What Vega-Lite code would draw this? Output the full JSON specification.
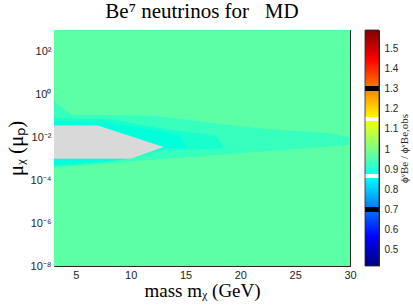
{
  "$schema": "https://vega.github.io/schema/vega-lite/v6.json",
  "background": "white",
  "padding": {"left": 5, "top": 1, "right": 2, "bottom": 2},
  "spacing": 15,
  "bounds": "flush",
  "config": {
    "view": {"stroke": null},
    "axis": {
      "grid": false,
      "labelFont": "Liberation Sans",
      "labelFontSize": 11,
      "labelColor": "#262626",
      "titleFont": "Liberation Serif",
      "titleFontSize": 19,
      "titleFontWeight": "normal",
      "titleColor": "#000000",
      "domainColor": "#262626",
      "domainWidth": 1,
      "tickColor": "#262626",
      "tickWidth": 0.8
    }
  },
  "hconcat": [
    {
      "width": 296,
      "height": 236,
      "title": {"text": "Be⁷ neutrinos for\u00a0\u00a0 MD", "font": "Liberation Serif", "fontSize": 21, "fontWeight": "normal", "color": "#000000", "anchor": "middle", "offset": 2},
      "layer": [
        {
          "data": {"values": [{"x": 3, "x2": 30, "y": 1000, "y2": 1e-8, "v": 0.995}]},
          "mark": {"type": "rect"},
          "encoding": {
            "x": {"field": "x", "type": "quantitative", "scale": {"domain": [3, 30], "nice": false, "zero": false},
              "axis": {"orient": "bottom", "title": "mass mᵪ (GeV)", "values": [5, 10, 15, 20, 25, 30], "tickSize": -4, "labelPadding": 7, "labelFlush": false, "titlePadding": 1}},
            "x2": {"field": "x2"},
            "y": {"field": "y", "type": "quantitative", "scale": {"type": "log", "domain": [1e-8, 1000], "nice": false},
              "axis": {"orient": "left", "title": "μᵪ (μₚ)", "titleFontSize": 21,
                "values": [1e-8,2e-8,3e-8,4e-8,5e-8,6e-8,7e-8,8e-8,9e-8,1e-7,2e-7,3e-7,4e-7,5e-7,6e-7,7e-7,8e-7,9e-7,1e-6,2e-6,3e-6,4e-6,5e-6,6e-6,7e-6,8e-6,9e-6,1e-5,2e-5,3e-5,4e-5,5e-5,6e-5,7e-5,8e-5,9e-5,1e-4,2e-4,3e-4,4e-4,5e-4,6e-4,7e-4,8e-4,9e-4,1e-3,2e-3,3e-3,4e-3,5e-3,6e-3,7e-3,8e-3,9e-3,1e-2,2e-2,3e-2,4e-2,5e-2,6e-2,7e-2,8e-2,9e-2,1e-1,2e-1,3e-1,4e-1,5e-1,6e-1,7e-1,8e-1,9e-1,1,2,3,4,5,6,7,8,9,10,20,30,40,50,60,70,80,90,100,200,300,400,500,600,700,800,900,1000],
                "labelExpr": "datum.value==1e-8?'10⁻⁸':datum.value==1e-6?'10⁻⁶':datum.value==1e-4?'10⁻⁴':datum.value==0.01?'10⁻²':datum.value==1?'10⁰':datum.value==100?'10²':''",
                "labelOverlap": false,
                "tickSize": {"condition": {"test": "abs(log(datum.value)/LN10-round(log(datum.value)/LN10))<0.001", "value": -4}, "value": -2},
                "labelPadding": 7,
                "titlePadding": 4}},
            "y2": {"field": "y2"},
            "color": {"field": "v", "type": "quantitative", "legend": null,
              "scale": {"domain": [0.42, 0.56625, 0.85875, 1.15125, 1.44375, 1.59], "range": ["#00007F", "#0000FF", "#00FFFF", "#FFFF00", "#FF0000", "#800000"]}}
          }
        },
        {
          "data": {"values": [
            {"x": 3, "y": 0.501, "y2": 0.000398, "v": 0.965},
            {"x": 4.6, "y": 0.1122, "y2": 0.000459, "v": 0.965},
            {"x": 12, "y": 0.1, "y2": 0.000891, "v": 0.965},
            {"x": 22, "y": 0.02512, "y2": 0.00218, "v": 0.965},
            {"x": 28, "y": 0.01585, "y2": 0.00373, "v": 0.965},
            {"x": 30, "y": 0.01, "y2": 0.00447, "v": 0.965}
          ]},
          "mark": {"type": "area"},
          "encoding": {
            "x": {"field": "x", "type": "quantitative", "axis": null},
            "y": {"field": "y", "type": "quantitative", "axis": null, "stack": null},
            "y2": {"field": "y2"},
            "color": {"field": "v", "type": "quantitative", "legend": null}
          }
        },
        {
          "data": {"values": [
            {"x": 3, "y": 0.0794, "y2": 0.000447, "v": 0.945},
            {"x": 8, "y": 0.0708, "y2": 0.000708, "v": 0.945},
            {"x": 13, "y": 0.0251, "y2": 0.00251, "v": 0.945},
            {"x": 17.8, "y": 0.0112, "y2": 0.00282, "v": 0.945},
            {"x": 18.5, "y": 0.00355, "y2": 0.00316, "v": 0.945}
          ]},
          "mark": {"type": "area"},
          "encoding": {
            "x": {"field": "x", "type": "quantitative", "axis": null},
            "y": {"field": "y", "type": "quantitative", "axis": null, "stack": null},
            "y2": {"field": "y2"},
            "color": {"field": "v", "type": "quantitative", "legend": null}
          }
        },
        {
          "data": {"values": [
            {"x": 3, "y": 0.0562, "y2": 0.000501, "v": 0.925},
            {"x": 7, "y": 0.0501, "y2": 0.000708, "v": 0.925},
            {"x": 10, "y": 0.0316, "y2": 0.001, "v": 0.925},
            {"x": 12, "y": 0.0224, "y2": 0.00224, "v": 0.925},
            {"x": 13, "y": 0.0178, "y2": 0.00316, "v": 0.925},
            {"x": 14.5, "y": 0.0112, "y2": 0.00316, "v": 0.925},
            {"x": 15, "y": 0.00398, "y2": 0.00316, "v": 0.925}
          ]},
          "mark": {"type": "area"},
          "encoding": {
            "x": {"field": "x", "type": "quantitative", "axis": null},
            "y": {"field": "y", "type": "quantitative", "axis": null, "stack": null},
            "y2": {"field": "y2"},
            "color": {"field": "v", "type": "quantitative", "legend": null}
          }
        },
        {
          "data": {"values": [
            {"x": 3, "y": 0.0355, "y2": 0.001},
            {"x": 7, "y": 0.0355, "y2": 0.001},
            {"x": 10, "y": 0.0112, "y2": 0.001},
            {"x": 13, "y": 0.00355, "y2": 0.00355}
          ]},
          "mark": {"type": "area", "color": "#D9D9D9"},
          "encoding": {
            "x": {"field": "x", "type": "quantitative", "axis": null},
            "y": {"field": "y", "type": "quantitative", "axis": null, "stack": null},
            "y2": {"field": "y2"}
          }
        },
        {
          "data": {"values": [{"x": 3, "x2": 30, "y": 1000, "y2": 1e-8}]},
          "mark": {"type": "rect", "opacity": 0},
          "encoding": {
            "x": {"field": "x", "type": "quantitative",
              "axis": {"orient": "top", "title": null, "labels": false, "values": [5, 10, 15, 20, 25, 30], "tickSize": -4}},
            "x2": {"field": "x2"},
            "y": {"field": "y", "type": "quantitative",
              "axis": {"orient": "right", "title": null, "labels": false,
                "values": [1e-8,2e-8,3e-8,4e-8,5e-8,6e-8,7e-8,8e-8,9e-8,1e-7,2e-7,3e-7,4e-7,5e-7,6e-7,7e-7,8e-7,9e-7,1e-6,2e-6,3e-6,4e-6,5e-6,6e-6,7e-6,8e-6,9e-6,1e-5,2e-5,3e-5,4e-5,5e-5,6e-5,7e-5,8e-5,9e-5,1e-4,2e-4,3e-4,4e-4,5e-4,6e-4,7e-4,8e-4,9e-4,1e-3,2e-3,3e-3,4e-3,5e-3,6e-3,7e-3,8e-3,9e-3,1e-2,2e-2,3e-2,4e-2,5e-2,6e-2,7e-2,8e-2,9e-2,1e-1,2e-1,3e-1,4e-1,5e-1,6e-1,7e-1,8e-1,9e-1,1,2,3,4,5,6,7,8,9,10,20,30,40,50,60,70,80,90,100,200,300,400,500,600,700,800,900,1000],
                "tickSize": {"condition": {"test": "abs(log(datum.value)/LN10-round(log(datum.value)/LN10))<0.001", "value": -4}, "value": -2}}},
            "y2": {"field": "y2"}
          }
        }
      ],
      "resolve": {"axis": {"x": "independent", "y": "independent"}}
    },
    {
      "width": 14,
      "height": 236,
      "data": {"values": [{"a": 0, "b": 1, "lo": 0.42, "hi": 1.59}]},
      "mark": {
        "type": "rect",
        "stroke": "#262626",
        "strokeWidth": 0.8,
        "fill": {
          "gradient": "linear", "x1": 0, "y1": 1, "x2": 0, "y2": 0,
          "stops": [
            {"offset": 0, "color": "#00007F"},
            {"offset": 0.125, "color": "#0000FF"},
            {"offset": 0.2308, "color": "#006CFF"},
            {"offset": 0.2308, "color": "#000000"},
            {"offset": 0.2479, "color": "#000000"},
            {"offset": 0.2479, "color": "#007DFF"},
            {"offset": 0.372, "color": "#00FCFF"},
            {"offset": 0.372, "color": "#FFFFFF"},
            {"offset": 0.389, "color": "#FFFFFF"},
            {"offset": 0.389, "color": "#0EFFF1"},
            {"offset": 0.5, "color": "#80FF80"},
            {"offset": 0.6154, "color": "#F5FF0A"},
            {"offset": 0.6154, "color": "#FFFFFF"},
            {"offset": 0.6325, "color": "#FFFFFF"},
            {"offset": 0.6325, "color": "#FFF700"},
            {"offset": 0.7436, "color": "#FF8600"},
            {"offset": 0.7436, "color": "#000000"},
            {"offset": 0.7607, "color": "#000000"},
            {"offset": 0.7607, "color": "#FF7500"},
            {"offset": 0.875, "color": "#FF0000"},
            {"offset": 1, "color": "#800000"}
          ]
        }
      },
      "encoding": {
        "x": {"field": "a", "type": "quantitative", "scale": {"domain": [0, 1], "nice": false, "zero": false}, "axis": null},
        "x2": {"field": "b"},
        "y": {"field": "lo", "type": "quantitative", "scale": {"domain": [0.42, 1.59], "nice": false, "zero": false},
          "axis": {"orient": "right", "values": [0.5, 0.6, 0.7, 0.8, 0.9, 1, 1.1, 1.2, 1.3, 1.4, 1.5], "format": ".1~f",
            "tickSize": -3, "labelPadding": 8, "labelFontSize": 10, "labelFlush": false,
            "title": "ϕᵛBe / ϕᵛBe,obs", "titleAngle": 270, "titleBaseline": "top", "titleFontSize": 11, "titlePadding": 1, "titleColor": "#262626"}},
        "y2": {"field": "hi"}
      }
    }
  ]
}
